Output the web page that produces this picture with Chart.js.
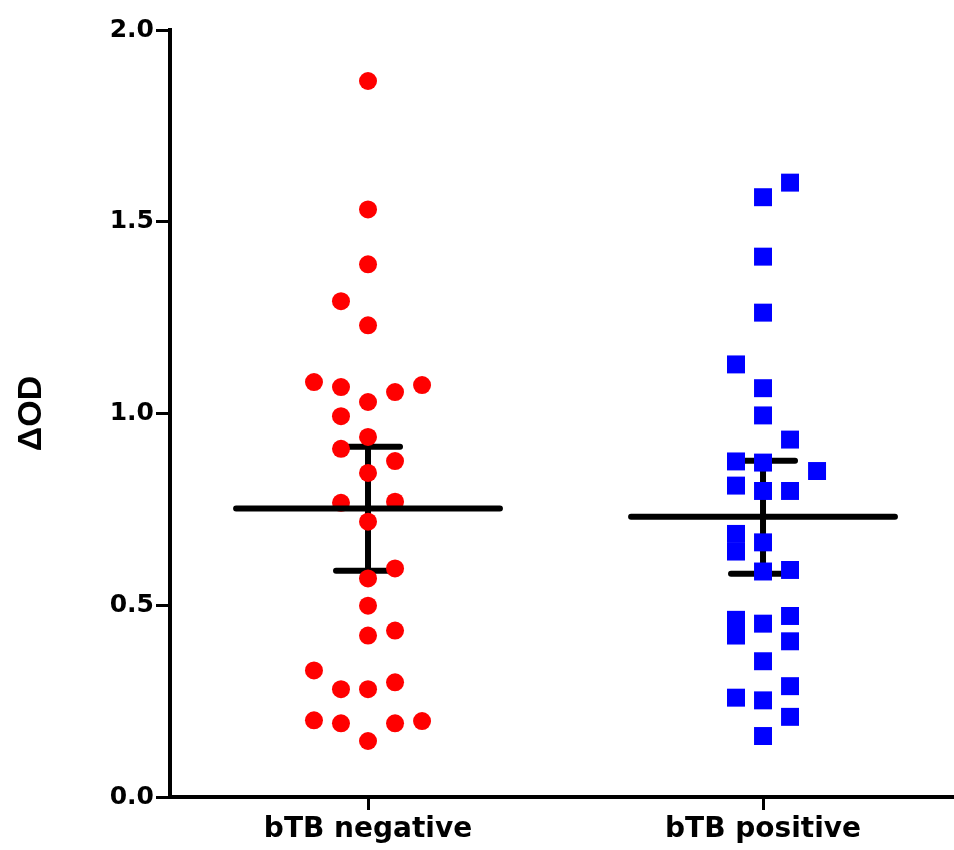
<!DOCTYPE html>
<html>
<head>
<meta charset="utf-8">
<script src="https://cdn.jsdelivr.net/npm/chart.js@4/dist/chart.umd.min.js"></script>
<style>
  body { margin: 0; background: #fff; overflow: hidden; }
  canvas { display: block; }
</style>
</head>
<body>
<canvas id="odChart" width="954" height="850"></canvas>
<script>
// groups on the x axis
const categories = ['bTB negative', 'bTB positive'];

// ΔOD values of the single animals
const negativeValues = [1.867, 1.532, 1.389, 1.293, 1.230, 1.082, 1.069, 1.074, 1.056, 1.030,
  0.993, 0.939, 0.908, 0.876, 0.845, 0.767, 0.770, 0.718, 0.596, 0.570,
  0.499, 0.421, 0.434, 0.330, 0.281, 0.281, 0.299, 0.200, 0.192, 0.192, 0.198, 0.146];
// column of each point in the scatter (-2 .. 2 around the group centre)
const negativeColumns = [0, 0, 0, -1, 0, -2, -1, 2, 1, 0,
  -1, 0, -1, 1, 0, -1, 1, 0, 1, 0,
  0, 0, 1, -2, -1, 0, 1, -2, -1, 1, 2, 0];

const positiveValues = [1.602, 1.564, 1.409, 1.263, 1.128, 1.066, 0.995, 0.932, 0.875, 0.872,
  0.850, 0.812, 0.798, 0.798, 0.686, 0.640, 0.664, 0.588, 0.592, 0.462,
  0.421, 0.452, 0.472, 0.406, 0.354, 0.289, 0.259, 0.252, 0.209, 0.159];
const positiveColumns = [1, 0, 0, 0, -1, 0, 0, 1, -1, 0,
  2, -1, 0, 1, -1, -1, 0, 0, 1, -1,
  -1, 0, 1, 1, 0, 1, -1, 0, 1, 0];

// mean and error bar limits per group
const means = [0.752, 0.731];
const upperLimits = [0.913, 0.877];
const lowerLimits = [0.590, 0.582];

const yTicks = [0, 0.5, 1.0, 1.5, 2.0];

const columnStep = 0.0684;
const meanHalfWidth = 0.334;
const capHalfWidth = 0.081;

function scatterPoints(values, columns, group) {
  return values.map((v, i) => ({ x: group + columns[i] * columnStep, y: v }));
}

const meanData = [];
const barData = [];
means.forEach((m, i) => {
  const g = i + 1;
  meanData.push({ x: g - meanHalfWidth, y: m }, { x: g + meanHalfWidth, y: m }, { x: g, y: null });
  barData.push(
    { x: g - capHalfWidth, y: upperLimits[i] }, { x: g + capHalfWidth, y: upperLimits[i] }, { x: g, y: null },
    { x: g, y: upperLimits[i] }, { x: g, y: lowerLimits[i] }, { x: g, y: null },
    { x: g - capHalfWidth, y: lowerLimits[i] }, { x: g + capHalfWidth, y: lowerLimits[i] }, { x: g, y: null }
  );
});

const ctx = document.getElementById('odChart').getContext('2d');
new Chart(ctx, {
  type: 'scatter',
  data: {
    datasets: [
      {
        data: meanData,
        showLine: true,
        spanGaps: false,
        borderColor: '#000',
        borderWidth: 6,
        borderCapStyle: 'round',
        pointRadius: 0,
        order: 0
      },
      {
        data: scatterPoints(negativeValues, negativeColumns, 1),
        pointStyle: 'circle',
        pointRadius: 9,
        pointBorderWidth: 0,
        backgroundColor: '#ff0000',
        borderColor: '#ff0000',
        order: 1
      },
      {
        data: scatterPoints(positiveValues, positiveColumns, 2),
        pointStyle: 'rect',
        pointRadius: 12.7,
        pointBorderWidth: 0,
        backgroundColor: '#0000ff',
        borderColor: '#0000ff',
        order: 1
      },
      {
        data: barData,
        showLine: true,
        spanGaps: false,
        borderColor: '#000',
        borderWidth: 6,
        borderCapStyle: 'round',
        pointRadius: 0,
        order: 2
      }
    ]
  },
  options: {
    responsive: false,
    animation: false,
    layout: { autoPadding: false, padding: { top: 30, right: 0, bottom: 0, left: 0 } },
    plugins: { legend: { display: false }, tooltip: { enabled: false } },
    scales: {
      x: {
        type: 'linear',
        min: 0.4987,
        max: 2.4835,
        afterFit: s => { s.height = 53; s.paddingLeft = 0; s.paddingRight = 0; },
        afterBuildTicks: s => { s.ticks = categories.map((c, i) => ({ value: i + 1 })); },
        border: { color: '#000', width: 4 },
        grid: { drawOnChartArea: false, color: '#000', tickLength: 13, tickWidth: 3 },
        ticks: {
          color: '#000',
          padding: 3,
          font: { family: 'DejaVu Sans', weight: 'bold', size: 28 },
          callback: v => categories[v - 1]
        }
      },
      y: {
        min: 0,
        max: 2,
        afterFit: s => { s.width = 170; },
        afterBuildTicks: s => { s.ticks = yTicks.map(v => ({ value: v })); },
        border: { color: '#000', width: 4 },
        grid: { drawOnChartArea: false, color: '#000', tickLength: 14, tickWidth: 3 },
        ticks: {
          color: '#000',
          padding: 2,
          font: { family: 'DejaVu Sans', weight: 'bold', size: 25 },
          callback: v => v.toFixed(1)
        },
        title: {
          display: true,
          text: 'ΔOD',
          color: '#000',
          padding: { top: 11, bottom: 0 },
          font: { family: 'Liberation Sans', weight: 'bold', size: 34 }
        }
      }
    }
  }
});
</script>
</body>
</html>
